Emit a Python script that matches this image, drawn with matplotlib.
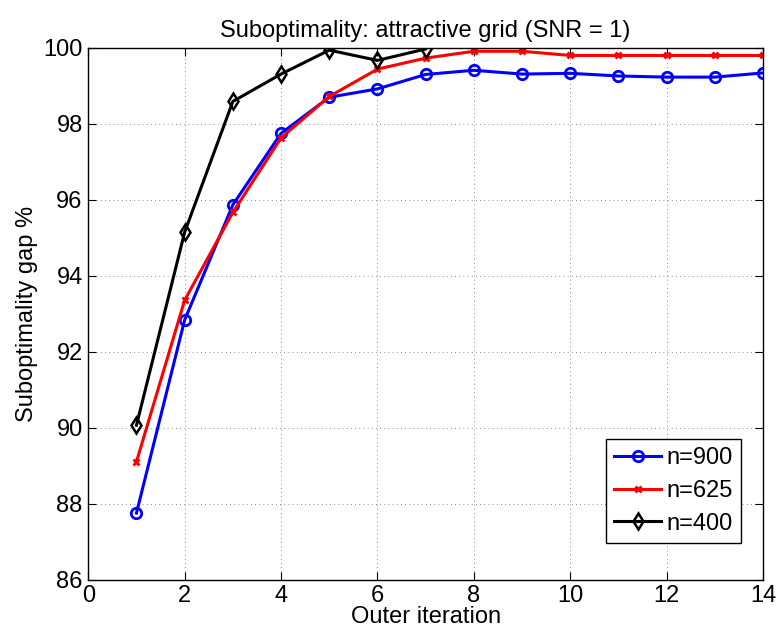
import matplotlib
matplotlib.use("Agg")
import matplotlib.pyplot as plt

plt.rcParams['font.family'] = ['Liberation Sans', 'DejaVu Sans']

iters_900 = [1, 2, 3, 4, 5, 6, 7, 8, 9, 10, 11, 12, 13, 14]
gap_900 = [87.76, 92.84, 95.87, 97.75, 98.70, 98.92, 99.30, 99.41, 99.31, 99.33, 99.26, 99.23, 99.23, 99.34]
iters_625 = [1, 2, 3, 4, 5, 6, 7, 8, 9, 10, 11, 12, 13, 14]
gap_625 = [89.11, 93.36, 95.67, 97.63, 98.72, 99.44, 99.73, 99.91, 99.91, 99.80, 99.80, 99.80, 99.80, 99.80]
iters_400 = [1, 2, 3, 4, 5, 6, 7]
gap_400 = [90.07, 95.15, 98.59, 99.31, 99.94, 99.67, 99.97]
labels = ["n=900", "n=625", "n=400"]
title = "Suboptimality: attractive grid (SNR = 1)"
xlabel = "Outer iteration"
ylabel = "Suboptimality gap %"
xticks = [0, 2, 4, 6, 8, 10, 12, 14]
yticks = [86, 88, 90, 92, 94, 96, 98, 100]

fs = 17
fig = plt.figure(figsize=(7.81, 6.38), dpi=100)
ax = fig.add_axes([0.113, 0.091, 0.864, 0.834])

lw = 2.2
ax.plot(iters_900, gap_900, color='blue', lw=lw, marker='o', ms=7.5, mfc='none', mec='blue', mew=2, label=labels[0])
ax.plot(iters_625, gap_625, color='red', lw=lw, marker='x', ms=5, mec='red', mew=2, label=labels[1])
ax.plot(iters_400, gap_400, color='black', lw=lw, marker='d', ms=8.5, mfc='none', mec='black', mew=1.8, label=labels[2])

ax.set_xlim(0, 14)
ax.set_ylim(86, 100)
ax.set_xticks(xticks)
ax.set_yticks(yticks)
ax.tick_params(direction='in', top=True, right=True, labelsize=fs, length=6, width=0.8, pad=4)
ax.grid(True, linestyle=(0, (1, 4)), color='black', lw=0.6, alpha=0.6)
for s in ax.spines.values():
    s.set_linewidth(1.0)

ax.set_title(title, fontsize=fs, pad=8)
ax.set_xlabel(xlabel, fontsize=fs, labelpad=-1)
ax.set_ylabel(ylabel, fontsize=fs, labelpad=4)

leg = ax.legend(loc='lower right', bbox_to_anchor=(0.967, 0.0695), borderaxespad=0, fontsize=fs,
                fancybox=False, edgecolor='black', framealpha=1, handlelength=2.0, borderpad=0.35,
                labelspacing=0.45, handletextpad=0.2)
leg.get_frame().set_linewidth(1.0)

fig.savefig("out.png", dpi=100)
